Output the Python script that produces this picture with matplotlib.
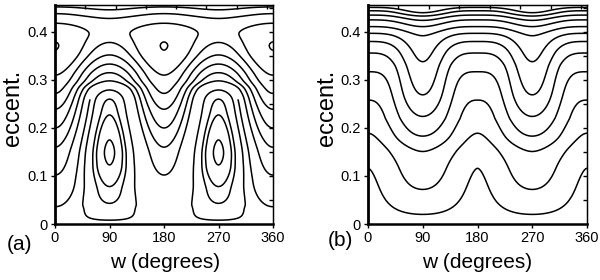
import numpy as np
import matplotlib
matplotlib.use("Agg")
import matplotlib.pyplot as plt

plt.rcParams['font.family'] = ['Liberation Sans', 'DejaVu Sans']

# ---------------- data ----------------
# Panel (a): contour level versus eccentricity along w = 0 and along w = 90
a_e_w0 = [0.000, 0.036, 0.102, 0.160, 0.200, 0.239, 0.272, 0.310, 0.362, 0.371,
          0.379, 0.418, 0.438, 0.452, 0.460]
a_h_w0 = [0.0, 0.40, 1.00, 1.50, 2.00, 2.50, 3.00, 3.50, 4.20, 4.215,
          4.20, 3.50, 3.00, 2.50, 2.20]
a_e_w90 = [0.000, 0.008, 0.043, 0.078, 0.123, 0.149, 0.175, 0.227, 0.260, 0.279,
           0.298, 0.315, 0.333, 0.352, 0.378, 0.400, 0.428, 0.446, 0.460]
a_h_w90 = [0.0, -0.03, -0.50, -0.69, -0.95, -1.00, -0.95, -0.69, -0.50, -0.03,
           1.00, 1.50, 2.00, 2.50, 3.00, 3.30, 3.00, 2.50, 2.20]
a_levels = [-0.95, -0.69, -0.50, -0.03, 1.00, 1.50, 2.00, 2.50, 3.00, 3.50, 4.20]
# level seen only near the w = 0 / 360 edges, below this eccentricity
a_edge_levels = [0.40]
a_edge_emax = 0.26
# squareness of the w-profile against eccentricity
a_shape_e = [0.00, 0.20, 0.25, 0.31, 0.36, 0.46]
a_shape_k = [0.2, 0.2, 0.4, 0.4, 0.2, 0.2]
a_peak_e = [0.0, 0.46]
a_peak_q = [1.0, 1.0]

# Panel (b)
b_e_w0 = [0.000, 0.116, 0.189, 0.258, 0.317, 0.356, 0.380, 0.397, 0.411, 0.425,
          0.435, 0.444, 0.451, 0.460]
b_h_w0 = [0.6, 1, 2, 3, 4, 5, 6, 7, 8, 9, 10, 11, 12, 13.3]
b_e_w90 = [0.000, 0.020, 0.072, 0.151, 0.183, 0.224, 0.269, 0.338, 0.392, 0.411,
           0.424, 0.433, 0.440, 0.460]
b_h_w90 = [0.6, 1, 2, 3, 4, 5, 6, 7, 8, 9, 10, 11, 12, 14.0]
b_levels = [1, 2, 3, 4, 5, 6, 7, 8, 9, 10, 11, 12]
b_edge_levels = []
b_edge_emax = 0.0
b_shape_e = [0.0, 0.46]
b_shape_k = [0.05, 0.05]
b_peak_e = [0.00, 0.10, 0.22, 0.33, 0.46]
b_peak_q = [0.7, 0.8, 1.0, 1.8, 1.8]

x_ticks = [0, 90, 180, 270, 360]
x_ticklabels = ['0', '90', '180', '270', '360']
y_ticks = [0.0, 0.1, 0.2, 0.3, 0.4]
y_ticklabels = ['0', '0.1', '0.2', '0.3', '0.4']
panel_tags = ['(a)', '(b)']
x_label = 'w (degrees)'
y_label = 'eccent.'


def pchip(xk, yk, xq):
    xk = np.asarray(xk, float)
    yk = np.asarray(yk, float)
    h = np.diff(xk)
    delta = np.diff(yk) / h
    n = len(xk)
    d = np.zeros(n)
    for k in range(1, n - 1):
        if delta[k - 1] * delta[k] > 0:
            w1 = 2 * h[k] + h[k - 1]
            w2 = h[k] + 2 * h[k - 1]
            d[k] = (w1 + w2) / (w1 / delta[k - 1] + w2 / delta[k])

    def end(h0, h1, d0, d1):
        v = ((2 * h0 + h1) * d0 - h0 * d1) / (h0 + h1)
        if np.sign(v) != np.sign(d0):
            v = 0.0
        elif np.sign(d0) != np.sign(d1) and abs(v) > abs(3 * d0):
            v = 3 * d0
        return v

    d[0] = end(h[0], h[1], delta[0], delta[1])
    d[-1] = end(h[-1], h[-2], delta[-1], delta[-2])
    idx = np.clip(np.searchsorted(xk, xq) - 1, 0, n - 2)
    t = (xq - xk[idx]) / h[idx]
    h00 = 2 * t**3 - 3 * t**2 + 1
    h10 = t**3 - 2 * t**2 + t
    h01 = -2 * t**3 + 3 * t**2
    h11 = t**3 - t**2
    return (h00 * yk[idx] + h10 * h[idx] * d[idx]
            + h01 * yk[idx + 1] + h11 * h[idx] * d[idx + 1])


def field(p, w, e):
    e_w0, h_w0, e_w90, h_w90, squared, ke, kv, qe, qv = p
    tr = (lambda v: np.asarray(v, float) ** 2) if squared else (lambda v: np.asarray(v, float))
    h0 = pchip(tr(e_w0), h_w0, tr(e))
    h90 = pchip(tr(e_w90), h_w90, tr(e))
    W, E = np.meshgrid(w, e)
    k = np.interp(E, ke, kv)
    q = np.interp(E, qe, qv)
    c = 1 - 2 * np.abs(np.sin(np.radians(W))) ** (2 * q)
    s = np.tanh(k * c) / np.tanh(k)
    F = 0.5 * (h0 + h90)[:, None]
    G = 0.5 * (h0 - h90)[:, None]
    return W, E, F + G * s


E_TOP = 0.456
w = np.linspace(0, 360, 721)
e = np.linspace(0, E_TOP, 600)

fig = plt.figure(figsize=(6, 2.8), dpi=100)
axes_rects = [[55 / 600, 56 / 280, 218 / 600, 219 / 280],
              [368 / 600, 56 / 280, 219 / 600, 219 / 280]]
panels = [(a_e_w0, a_h_w0, a_e_w90, a_h_w90, True,
           a_shape_e, a_shape_k, a_peak_e, a_peak_q),
          (b_e_w0, b_h_w0, b_e_w90, b_h_w90, False,
           b_shape_e, b_shape_k, b_peak_e, b_peak_q)]
panel_levels = [a_levels, b_levels]
panel_edge = [(a_edge_levels, a_edge_emax), (b_edge_levels, b_edge_emax)]
tag_pos = [(20 / 600, 1 - 244 / 280), (340 / 600, 1 - 240 / 280)]
xlab_pos = [165 / 600, 477 / 600]
ylab_pos = [13 / 600, 327 / 600]

for i, (rect, p) in enumerate(zip(axes_rects, panels)):
    ax = fig.add_axes(rect)
    W, E, H = field(p, w, e)
    ax.contour(W, E, H, levels=sorted(panel_levels[i]), colors='k',
               linewidths=1.1, linestyles='solid')
    edge_levels, edge_emax = panel_edge[i]
    if edge_levels:
        He = np.ma.masked_where((np.cos(np.radians(W)) <= 0) | (E > edge_emax), H)
        ax.contour(W, E, He, levels=edge_levels, colors='k',
                   linewidths=1.1, linestyles='solid')
    ax.set_xlim(0, 360)
    ax.set_ylim(0, E_TOP)
    ax.set_xticks(x_ticks)
    ax.set_xticklabels(x_ticklabels)
    ax.set_yticks(y_ticks)
    ax.set_yticklabels(y_ticklabels)
    ax.tick_params(direction='out', length=3, width=1, pad=2, labelsize=10.5)
    ax.spines['left'].set_linewidth(2.0)
    ax.spines['bottom'].set_linewidth(1.8)
    ax.spines['top'].set_linewidth(1.0)
    ax.spines['right'].set_linewidth(1.0)
    sx = ax.secondary_xaxis('top')
    sx.set_xticks(np.arange(50, 360, 50))
    sx.set_xticklabels([])
    sx.tick_params(direction='in', length=3, width=1)
    sy = ax.secondary_yaxis('right')
    sy.set_yticks(np.arange(0.05, 0.451, 0.05))
    sy.set_yticklabels([])
    sy.tick_params(direction='in', length=3, width=1)
    fig.text(tag_pos[i][0], tag_pos[i][1], panel_tags[i], fontsize=15,
             ha='center', va='center')
    fig.text(xlab_pos[i], 1 - 262 / 280, x_label, fontsize=15,
             ha='center', va='center')
    fig.text(ylab_pos[i], 0.615, y_label, fontsize=17, rotation=90,
             ha='center', va='center')

fig.savefig('out.png', dpi=100)
